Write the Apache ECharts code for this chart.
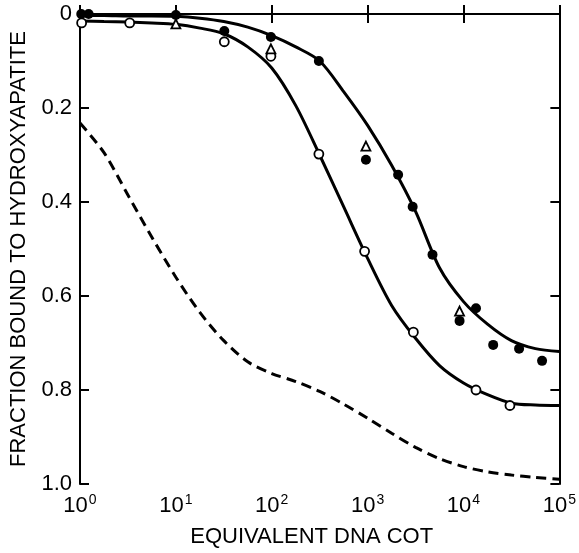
<!DOCTYPE html>
<html>
<head>
  <meta charset="utf-8" />
  <title>DNA reassociation</title>
  <script src="https://cdn.jsdelivr.net/npm/echarts@6/dist/echarts.min.js"></script>
  <style>
    html, body { margin: 0; padding: 0; background: #fff; }
    #main { width: 579px; height: 553px; }
  </style>
</head>
<body>
  <div id="main"></div>
  <script type="text/javascript">
    // equivalent DNA Cot vs fraction bound to hydroxyapatite
    const cot = [1, 1.78, 3.16, 5.62, 10, 17.8, 31.6, 56.2, 100, 178, 316, 562, 1000,
      1780, 3160, 5620, 10000, 17800, 31600, 56200, 100000];
    const upperVals = [0.003, 0.003, 0.004, 0.004, 0.005, 0.009, 0.016, 0.028, 0.046, 0.07,
      0.10, 0.165, 0.237, 0.322, 0.42, 0.54, 0.612, 0.66, 0.695, 0.712, 0.718];
    const lowerVals = [0.015, 0.016, 0.017, 0.019, 0.022, 0.03, 0.042, 0.07, 0.115, 0.195,
      0.30, 0.41, 0.52, 0.62, 0.69, 0.748, 0.785, 0.81, 0.828, 0.832, 0.833];
    const dashedVals = [0.232, 0.295, 0.385, 0.475, 0.56, 0.635, 0.695, 0.74, 0.765, 0.782,
      0.803, 0.83, 0.86, 0.892, 0.922, 0.946, 0.963, 0.974, 0.981, 0.986, 0.99];

    const filledPts = [
      [1.03, 0.0], [1.23, 0.0], [10, 0.002], [32, 0.036], [98, 0.049], [310, 0.10],
      [960, 0.31], [2080, 0.342], [2950, 0.41], [4750, 0.512], [9100, 0.653],
      [13500, 0.626], [20400, 0.704], [38000, 0.712], [66000, 0.738]
    ];
    const openPts = [
      [1.04, 0.019], [3.3, 0.019], [32, 0.059], [98, 0.09], [310, 0.298], [930, 0.505],
      [3000, 0.677], [13500, 0.80], [30500, 0.833]
    ];
    const trianglePts = [
      [10, 0.021], [98, 0.074], [960, 0.281], [9100, 0.632]
    ];
    const yTicks = ['0', '0.2', '0.4', '0.6', '0.8', '1.0'];

    const font = 'Liberation Sans';
    const chart = echarts.init(document.getElementById('main'));
    const pair = vals => cot.map((c, i) => [c, vals[i]]);

    const lineStyle = { color: '#000', width: 3 };
    chart.setOption({
      animation: false,
      backgroundColor: '#fff',
      grid: { left: 79, right: 16, top: 14, bottom: 66 },
      xAxis: [
        {
          type: 'log', logBase: 10, min: 1, max: 100000,
          name: 'EQUIVALENT DNA COT', nameLocation: 'middle', nameGap: 42,
          nameTextStyle: { fontFamily: font, fontSize: 22, color: '#000', padding: [0, 16, 0, 0] },
          axisLine: { lineStyle: { color: '#000', width: 2 } },
          axisTick: { inside: true, length: 9, lineStyle: { color: '#000', width: 2 } },
          minorTick: { show: false },
          splitLine: { show: false },
          axisLabel: {
            margin: 9, color: '#000',
            formatter: function (v) {
              return '{b|10}{s|' + Math.round(Math.log10(v)) + '}';
            },
            rich: {
              b: { fontFamily: font, fontSize: 22, color: '#000' },
              s: { fontFamily: font, fontSize: 14, color: '#000', padding: [0, 0, 12, 1] }
            }
          }
        },
        {
          type: 'log', logBase: 10, min: 1, max: 100000, position: 'top',
          axisLine: { lineStyle: { color: '#000', width: 2 } },
          axisTick: { inside: true, length: 9, lineStyle: { color: '#000', width: 2 } },
          axisLabel: { show: false },
          splitLine: { show: false }
        }
      ],
      yAxis: [
        {
          type: 'value', inverse: true, min: 0, max: 1, interval: 0.2,
          name: 'FRACTION BOUND TO HYDROXYAPATITE', nameLocation: 'middle', nameGap: 50,
          nameTextStyle: { fontFamily: font, fontSize: 22, color: '#000' },
          axisLine: { show: true, lineStyle: { color: '#000', width: 2 } },
          axisTick: { show: true, inside: true, length: 9, lineStyle: { color: '#000', width: 2 } },
          splitLine: { show: false },
          axisLabel: {
            margin: 8, color: '#000', fontFamily: font, fontSize: 22,
            formatter: function (v) { return yTicks[Math.round(v / 0.2)]; }
          }
        },
        {
          type: 'value', inverse: true, min: 0, max: 1, interval: 0.2, position: 'right',
          axisLine: { show: true, lineStyle: { color: '#000', width: 2 } },
          axisTick: { show: true, inside: true, length: 9, lineStyle: { color: '#000', width: 2 } },
          axisLabel: { show: false },
          splitLine: { show: false }
        }
      ],
      series: [
        { type: 'line', data: pair(upperVals), smooth: 0.3, symbol: 'none', lineStyle: lineStyle, z: 2 },
        { type: 'line', data: pair(lowerVals), smooth: 0.3, symbol: 'none', lineStyle: lineStyle, z: 2 },
        {
          type: 'line', data: pair(dashedVals), smooth: 0.3, symbol: 'none', z: 2,
          lineStyle: { color: '#000', width: 3, type: [10, 6] }
        },
        {
          type: 'scatter', data: filledPts, symbol: 'circle', symbolSize: 10, z: 5,
          itemStyle: { color: '#000', opacity: 1 }
        },
        {
          type: 'scatter', data: openPts, symbol: 'circle', symbolSize: 9, z: 5,
          itemStyle: { color: '#fff', borderColor: '#000', borderWidth: 1.8, opacity: 1 }
        },
        {
          type: 'scatter', data: trianglePts, symbol: 'triangle', symbolSize: 9, z: 5,
          itemStyle: { color: '#fff', borderColor: '#000', borderWidth: 1.8, opacity: 1 }
        }
      ]
    });
  </script>
</body>
</html>
